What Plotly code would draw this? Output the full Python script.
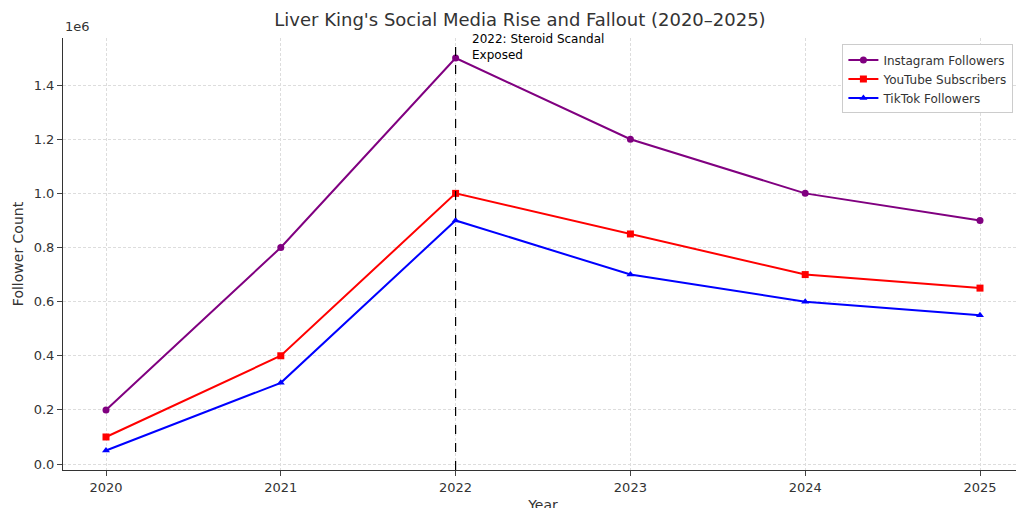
import plotly.graph_objects as go

years = [2020, 2021, 2022, 2023, 2024, 2025]
instagram = [200000, 800000, 1500000, 1200000, 1000000, 900000]
youtube = [100000, 400000, 1000000, 850000, 700000, 650000]
tiktok = [50000, 300000, 900000, 700000, 600000, 550000]
y_ticks = [0, 200000, 400000, 600000, 800000, 1000000, 1200000, 1400000]
y_tick_labels = ["0.0", "0.2", "0.4", "0.6", "0.8", "1.0", "1.2", "1.4"]

fig = go.Figure()
series = [
    ("Instagram Followers", instagram, "purple", "circle"),
    ("YouTube Subscribers", youtube, "red", "square"),
    ("TikTok Followers", tiktok, "blue", "triangle-up"),
]
for name, vals, color, sym in series:
    fig.add_trace(go.Scatter(
        x=years, y=vals, name=name, mode="lines+markers",
        line=dict(color=color, width=2),
        marker=dict(symbol=sym, size=7, color=color),
    ))

fig.add_vline(x=2022, line=dict(color="black", width=1.2, dash="dash"))
fig.add_annotation(x=2022, y=1.0, xref="x", yref="paper", text="2022: Steroid Scandal<br>Exposed",
                   showarrow=False, xanchor="left", yanchor="top", xshift=14, yshift=8, align="left",
                   font=dict(size=12, color="black"))
fig.add_annotation(x=0, y=1, xref="paper", yref="paper", text="1e6", showarrow=False,
                   xanchor="left", yanchor="bottom", yshift=2, font=dict(size=13, color="#333"))

fig.update_layout(
    width=1024, height=508,
    margin=dict(l=55, r=9, t=30, b=46, autoexpand=False),
    paper_bgcolor="white", plot_bgcolor="white",
    font=dict(family="DejaVu Sans", color="#333"),
    title=dict(text="Liver King's Social Media Rise and Fallout (2020–2025)", x=0.5, xanchor="center",
               y=0.99, yanchor="top", font=dict(size=18, color="#333")),
    legend=dict(x=0.99, y=0.985, xanchor="right", yanchor="top", bgcolor="white",
                bordercolor="#ccc", borderwidth=1, font=dict(size=12)),
    xaxis=dict(title=dict(text="Year", font=dict(size=14), standoff=6), range=[2019.754, 2025.246],
               tickvals=years, showgrid=True, gridcolor="#ddd", griddash="3px,2px", zeroline=False,
               showline=True, linecolor="#333", ticks="outside", tickfont=dict(size=13), automargin=False),
    yaxis=dict(title=dict(text="Follower Count", font=dict(size=14), standoff=6), range=[-22000, 1574000],
               tickvals=y_ticks, ticktext=y_tick_labels, showgrid=True, gridcolor="#ddd", griddash="3px,2px",
               zeroline=False, showline=True, linecolor="#333", ticks="outside", tickfont=dict(size=13),
               automargin=False),
)

fig.write_html("out.html")
